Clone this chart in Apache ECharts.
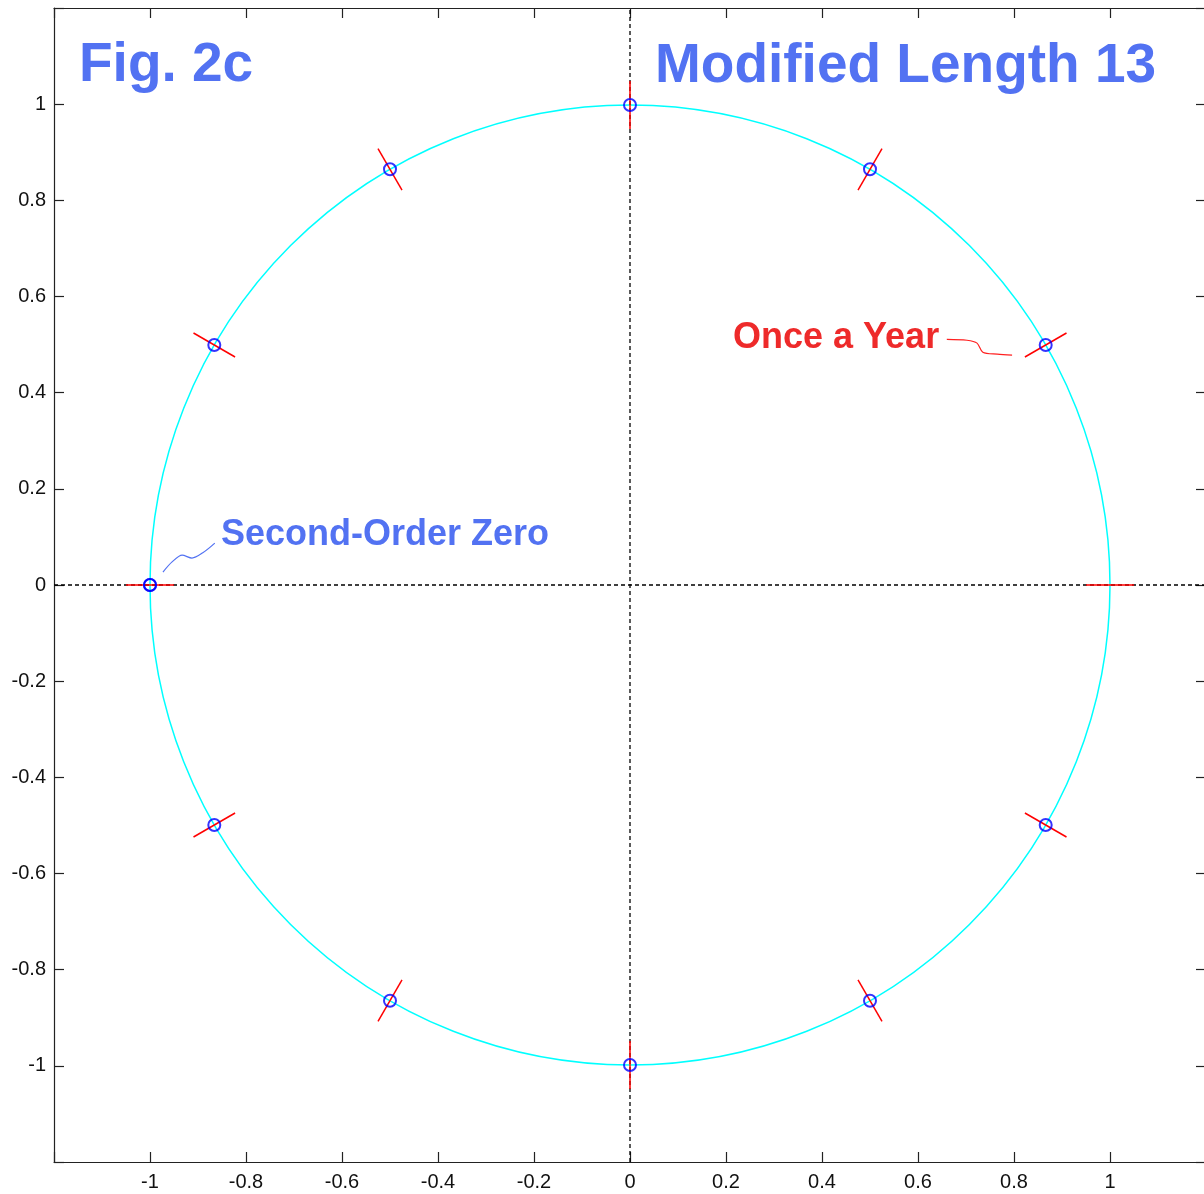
<!DOCTYPE html>
<html>
<head>
<meta charset="utf-8">
<script src="https://cdn.jsdelivr.net/npm/echarts@6/dist/echarts.min.js"></script>
<style>
html,body{margin:0;padding:0;background:#fff;}
#chart{width:1204px;height:1194px;}
</style>
</head>
<body>
<div id="chart"></div>
<script>
// ---- data ----
const axisMin = -1.2;
const axisMax = 1.2;
const tickStep = 0.2;
const labelLimit = 1; // tick labels shown only for |v| <= 1
const zeroAngles = [30, 60, 90, 120, 150, 180, 180, 210, 240, 270, 300, 330]; // degrees, on unit circle
const zeroRadius = 1;
const circleRadius = 1;
const refAngles = [0, 30, 60, 90, 120, 150, 180, 210, 240, 270, 300, 330]; // red radial marks
const refInner = 0.95;
const refOuter = 1.05;
const onceAYearLeader = [[0.660, 0.511], [0.702, 0.509], [0.723, 0.503], [0.735, 0.484], [0.765, 0.480], [0.796, 0.478]];
const secondOrderLeader = [[-0.973, 0.027], [-0.954, 0.048], [-0.933, 0.062], [-0.9125, 0.056], [-0.890, 0.067], [-0.865, 0.087]];
const vAxisLine = [[0, axisMin], [0, axisMax]];
const hAxisLine = [[axisMin, 0], [axisMax, 0]];
const titleLeft = 'Fig. 2c';
const titleRight = 'Modified Length 13';
const noteRed = 'Once a Year';
const noteBlue = 'Second-Order Zero';

// ---- chart ----
const chart = echarts.init(document.getElementById('chart'), null, {renderer: 'canvas'});
const labelFont = {fontFamily: 'Liberation Sans, Arial, sans-serif', fontSize: 20, color: '#111'};
const fmt = v => (Math.abs(v) > labelLimit + 1e-6 ? '' : String(+v.toFixed(1)));
function axisBase(extra) {
  return Object.assign({
    type: 'value', min: axisMin, max: axisMax, interval: tickStep,
    axisLine: {show: true, onZero: false, lineStyle: {color: '#222', width: 1.2}},
    axisTick: {show: true, inside: true, length: 10, lineStyle: {color: '#222', width: 1.2}},
    splitLine: {show: false}
  }, extra);
}
chart.setOption({
  animation: false,
  backgroundColor: '#fff',
  grid: {left: 54, top: 8, right: -2, bottom: 32, containLabel: false, outerBoundsMode: 'none'},
  xAxis: [
    axisBase({position: 'bottom', axisLabel: Object.assign({margin: 10, formatter: fmt}, labelFont)}),
    axisBase({position: 'top', axisLabel: {show: false}})
  ],
  yAxis: [
    axisBase({position: 'left', axisLabel: Object.assign({margin: 8, formatter: fmt}, labelFont)}),
    axisBase({position: 'right', axisLabel: {show: false}})
  ],
  series: []
});

const c0 = chart.convertToPixel({gridIndex: 0}, [0, 0]);
const c1 = chart.convertToPixel({gridIndex: 0}, [1, 0]);
const unitPx = c1[0] - c0[0];

const blueText = '#5272F2';
const redText = '#EE2A2A';

const series = [
  {type: 'line', name: 'vaxis', xAxisIndex: 0, yAxisIndex: 0, data: vAxisLine, symbol: 'none', silent: true, z: 3,
   lineStyle: {color: '#000', width: 1.3, type: [4, 3]}},
  {type: 'line', name: 'haxis', xAxisIndex: 0, yAxisIndex: 0, data: hAxisLine, symbol: 'none', silent: true, z: 3,
   lineStyle: {color: '#000', width: 1.3, type: [4, 3]}}
];
refAngles.forEach((a, i) => {
  series.push({type: 'line', name: 'ref' + i, coordinateSystem: 'polar', polarIndex: 1, clip: false, symbol: 'none', z: 4,
    data: [[refInner, a], [refOuter, a]], lineStyle: {color: '#FF0000', width: 1.5}});
});
series.push({type: 'scatter', name: 'zeros', coordinateSystem: 'polar', polarIndex: 1, z: 5,
  data: zeroAngles.map(a => [zeroRadius, a]), symbol: 'circle', symbolSize: 12,
  itemStyle: {color: 'rgba(0,0,0,0)', borderColor: '#0000FF', borderWidth: 2}});
series.push({type: 'line', name: 'leaderRed', xAxisIndex: 0, yAxisIndex: 0, data: onceAYearLeader, symbol: 'none', smooth: 0.3, z: 4,
  lineStyle: {color: '#FF2020', width: 1.2}});
series.push({type: 'line', name: 'leaderBlue', xAxisIndex: 0, yAxisIndex: 0, data: secondOrderLeader, symbol: 'none', smooth: 0.3, z: 4,
  lineStyle: {color: blueText, width: 1.2}});

const titleFont = 'bold 55px "Liberation Sans", Arial, sans-serif';
const noteFont = 'bold 36px "Liberation Sans", Arial, sans-serif';
chart.setOption({
  polar: [
    {center: [c0[0], c0[1]], radius: unitPx * circleRadius},
    {center: [c0[0], c0[1]], radius: unitPx * axisMax}
  ],
  angleAxis: [
    {polarIndex: 0, type: 'value', min: 0, max: 360, startAngle: 0, clockwise: false,
      axisLine: {show: true, lineStyle: {color: '#00FFFF', width: 1.5}},
      axisTick: {show: false}, axisLabel: {show: false}, splitLine: {show: false}, z: 1},
    {polarIndex: 1, type: 'value', min: 0, max: 360, startAngle: 0, clockwise: false,
      axisLine: {show: false}, axisTick: {show: false}, axisLabel: {show: false}, splitLine: {show: false}}
  ],
  radiusAxis: [
    {polarIndex: 0, type: 'value', min: 0, max: circleRadius, show: false},
    {polarIndex: 1, type: 'value', min: 0, max: axisMax, show: false}
  ],
  series: series,
  graphic: [
    {type: 'text', z: 10, style: {text: titleLeft, x: 79, y: 66, font: titleFont, fill: blueText, align: 'left', verticalAlign: 'middle'}},
    {type: 'text', z: 10, style: {text: titleRight, x: 655, y: 67, font: titleFont, fill: blueText, align: 'left', verticalAlign: 'middle'}},
    {type: 'text', z: 10, style: {text: noteRed, x: 733, y: 338, font: noteFont, fill: redText, align: 'left', verticalAlign: 'middle'}},
    {type: 'text', z: 10, style: {text: noteBlue, x: 221, y: 535, font: noteFont, fill: blueText, align: 'left', verticalAlign: 'middle'}}
  ]
});
</script>
</body>
</html>
